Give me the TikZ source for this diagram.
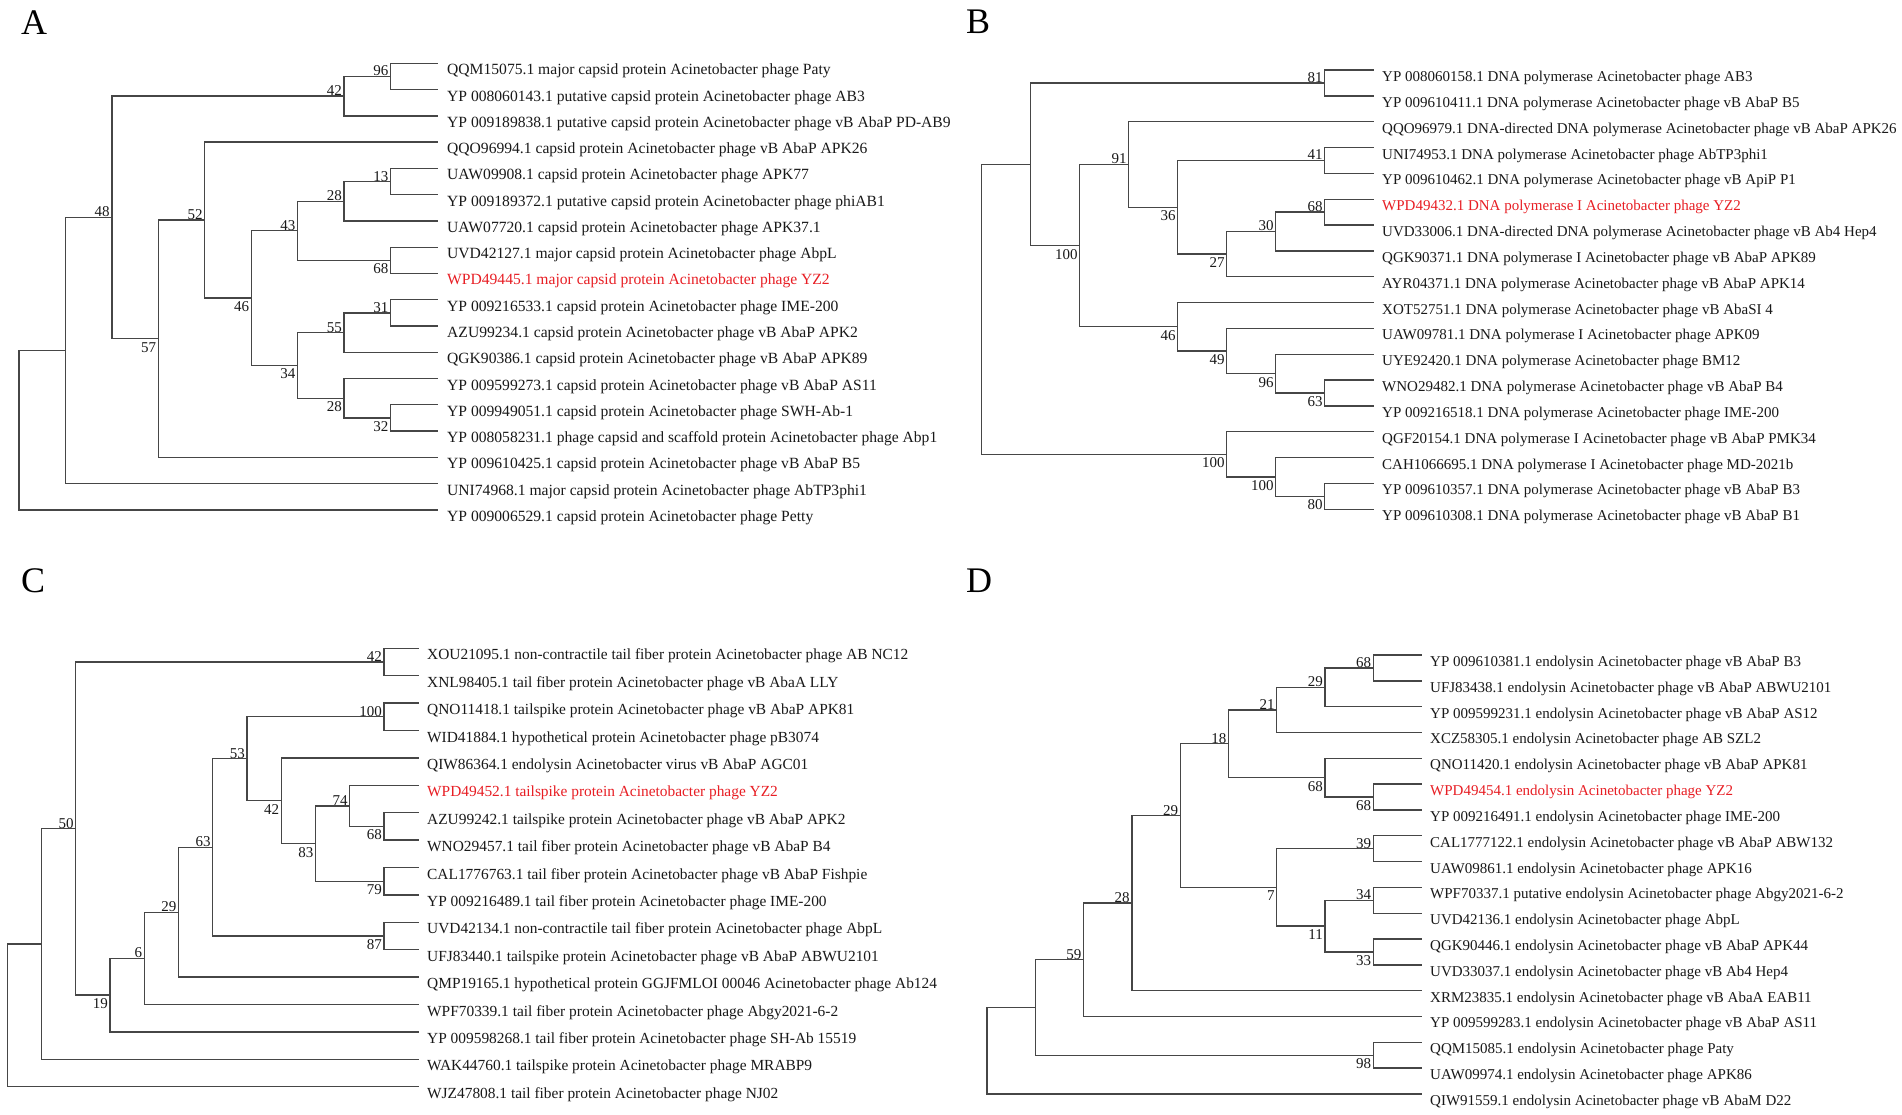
\documentclass[tikz,border=0pt]{standalone}
\usepackage{fontspec}
\setmainfont{Liberation Serif}
\usetikzlibrary{calc}
\definecolor{yzred}{RGB}{232,30,36}
\definecolor{txt}{RGB}{25,25,25}
\definecolor{brc}{RGB}{70,70,70}
\tikzset{
 br/.style={draw=brc,line width=1.35pt,line cap=rect},
 lblA/.style={text=txt,inner sep=0pt,font=\fontsize{15.6}{18}\selectfont},
 lblB/.style={text=txt,inner sep=0pt,font=\fontsize{15}{18}\selectfont},
 lblC/.style={text=txt,inner sep=0pt,font=\fontsize{15.4}{18}\selectfont},
 lblD/.style={text=txt,inner sep=0pt,font=\fontsize{15}{18}\selectfont},
 bsl/.style={text=txt,inner sep=0pt,font=\fontsize{15}{18}\selectfont},
 yz/.style={text=yzred},
 panel/.style={text=black,inner sep=0pt,font=\fontsize{36}{36}\selectfont,anchor=base west}
}
\newcommand\jn[4]{\path let \p1=(#3), \p2=(#4) in ({(#2)*1pt},{0.5*(\y1+\y2)}) coordinate (#1);
 \draw[br] (#1) |- (#3); \draw[br] (#1) |- (#4);}
\newcommand\bsa[3]{\node[bsl,anchor=base east] (#1) at ([xshift=-2pt,yshift=0.5pt]#2) {#3};}
\newcommand\bsb[3]{\node[bsl,anchor=base east] (#1) at ([xshift=-2pt,yshift=-13.5pt]#2) {#3};}
\newcommand\lf[6]{\coordinate (#1) at (#2,#4); \node[#5,anchor=base west] (#1t) at (#3,#4+11.5) {#6};}
\def\XA#1{19+46.44*#1}
\def\XB#1{981.7+49*#1}
\def\XC#1{7.3+34.25*#1}
\def\XD#1{987+48.3*#1}
\begin{document}
\begin{tikzpicture}[x=1pt,y=-1pt]
\useasboundingbox[fill=white] (0,0) rectangle (1902,1115);
% panel letters
\node[panel] (pA) at (21,35) {A};
\node[panel] (pB) at (966,34) {B};
\node[panel] (pC) at (21,592) {C};
\node[panel] (pD) at (966,592) {D};
% ---------------- Panel A ----------------
\lf{a0}{437}{447}{63.3+26.27*0}{lblA}{QQM15075.1 major capsid protein Acinetobacter phage Paty}
\lf{a1}{437}{447}{63.3+26.27*1}{lblA}{YP 008060143.1 putative capsid protein Acinetobacter phage AB3}
\lf{a2}{437}{447}{63.3+26.27*2}{lblA}{YP 009189838.1 putative capsid protein Acinetobacter phage vB AbaP PD-AB9}
\lf{a3}{437}{447}{63.3+26.27*3}{lblA}{QQO96994.1 capsid protein Acinetobacter phage vB AbaP APK26}
\lf{a4}{437}{447}{63.3+26.27*4}{lblA}{UAW09908.1 capsid protein Acinetobacter phage APK77}
\lf{a5}{437}{447}{63.3+26.27*5}{lblA}{YP 009189372.1 putative capsid protein Acinetobacter phage phiAB1}
\lf{a6}{437}{447}{63.3+26.27*6}{lblA}{UAW07720.1 capsid protein Acinetobacter phage APK37.1}
\lf{a7}{437}{447}{63.3+26.27*7}{lblA}{UVD42127.1 major capsid protein Acinetobacter phage AbpL}
\lf{a8}{437}{447}{63.3+26.27*8}{lblA,yz}{WPD49445.1 major capsid protein Acinetobacter phage YZ2}
\lf{a9}{437}{447}{63.3+26.27*9}{lblA}{YP 009216533.1 capsid protein Acinetobacter phage IME-200}
\lf{a10}{437}{447}{63.3+26.27*10}{lblA}{AZU99234.1 capsid protein Acinetobacter phage vB AbaP APK2}
\lf{a11}{437}{447}{63.3+26.27*11}{lblA}{QGK90386.1 capsid protein Acinetobacter phage vB AbaP APK89}
\lf{a12}{437}{447}{63.3+26.27*12}{lblA}{YP 009599273.1 capsid protein Acinetobacter phage vB AbaP AS11}
\lf{a13}{437}{447}{63.3+26.27*13}{lblA}{YP 009949051.1 capsid protein Acinetobacter phage SWH-Ab-1}
\lf{a14}{437}{447}{63.3+26.27*14}{lblA}{YP 008058231.1 phage capsid and scaffold protein Acinetobacter phage Abp1}
\lf{a15}{437}{447}{63.3+26.27*15}{lblA}{YP 009610425.1 capsid protein Acinetobacter phage vB AbaP B5}
\lf{a16}{437}{447}{63.3+26.27*16}{lblA}{UNI74968.1 major capsid protein Acinetobacter phage AbTP3phi1}
\lf{a17}{437}{447}{63.3+26.27*17}{lblA}{YP 009006529.1 capsid protein Acinetobacter phage Petty}
\jn{aJ96}{\XA{8}}{a0}{a1} \bsa{aB96}{aJ96}{96}
\jn{aJ42}{\XA{7}}{aJ96}{a2} \bsa{aB42}{aJ42}{42}
\jn{aJ13}{\XA{8}}{a4}{a5} \bsa{aB13}{aJ13}{13}
\jn{aJ28u}{\XA{7}}{aJ13}{a6} \bsa{aB28u}{aJ28u}{28}
\jn{aJ68}{\XA{8}}{a7}{a8} \bsb{aB68}{aJ68}{68}
\jn{aJ43}{\XA{6}}{aJ28u}{aJ68} \bsa{aB43}{aJ43}{43}
\jn{aJ31}{\XA{8}}{a9}{a10} \bsa{aB31}{aJ31}{31}
\jn{aJ55}{\XA{7}}{aJ31}{a11} \bsa{aB55}{aJ55}{55}
\jn{aJ32}{\XA{8}}{a13}{a14} \bsb{aB32}{aJ32}{32}
\jn{aJ28l}{\XA{7}}{a12}{aJ32} \bsb{aB28l}{aJ28l}{28}
\jn{aJ34}{\XA{6}}{aJ55}{aJ28l} \bsb{aB34}{aJ34}{34}
\jn{aJ46}{\XA{5}}{aJ43}{aJ34} \bsb{aB46}{aJ46}{46}
\jn{aJ52}{\XA{4}}{a3}{aJ46} \bsa{aB52}{aJ52}{52}
\jn{aJ57}{\XA{3}}{aJ52}{a15} \bsb{aB57}{aJ57}{57}
\jn{aJ48}{\XA{2}}{aJ42}{aJ57} \bsa{aB48}{aJ48}{48}
\jn{aJ1}{\XA{1}}{aJ48}{a16}
\jn{aJ0}{\XA{0}}{aJ1}{a17}
% ---------------- Panel B ----------------
\lf{b0}{1373.7}{1382}{70+25.84*0}{lblB}{YP 008060158.1 DNA polymerase Acinetobacter phage AB3}
\lf{b1}{1373.7}{1382}{70+25.84*1}{lblB}{YP 009610411.1 DNA polymerase Acinetobacter phage vB AbaP B5}
\lf{b2}{1373.7}{1382}{70+25.84*2}{lblB}{QQO96979.1 DNA-directed DNA polymerase Acinetobacter phage vB AbaP APK26}
\lf{b3}{1373.7}{1382}{70+25.84*3}{lblB}{UNI74953.1 DNA polymerase Acinetobacter phage AbTP3phi1}
\lf{b4}{1373.7}{1382}{70+25.84*4}{lblB}{YP 009610462.1 DNA polymerase Acinetobacter phage vB ApiP P1}
\lf{b5}{1373.7}{1382}{70+25.84*5}{lblB,yz}{WPD49432.1 DNA polymerase I Acinetobacter phage YZ2}
\lf{b6}{1373.7}{1382}{70+25.84*6}{lblB}{UVD33006.1 DNA-directed DNA polymerase Acinetobacter phage vB Ab4 Hep4}
\lf{b7}{1373.7}{1382}{70+25.84*7}{lblB}{QGK90371.1 DNA polymerase I Acinetobacter phage vB AbaP APK89}
\lf{b8}{1373.7}{1382}{70+25.84*8}{lblB}{AYR04371.1 DNA polymerase Acinetobacter phage vB AbaP APK14}
\lf{b9}{1373.7}{1382}{70+25.84*9}{lblB}{XOT52751.1 DNA polymerase Acinetobacter phage vB AbaSI 4}
\lf{b10}{1373.7}{1382}{70+25.84*10}{lblB}{UAW09781.1 DNA polymerase I Acinetobacter phage APK09}
\lf{b11}{1373.7}{1382}{70+25.84*11}{lblB}{UYE92420.1 DNA polymerase Acinetobacter phage BM12}
\lf{b12}{1373.7}{1382}{70+25.84*12}{lblB}{WNO29482.1 DNA polymerase Acinetobacter phage vB AbaP B4}
\lf{b13}{1373.7}{1382}{70+25.84*13}{lblB}{YP 009216518.1 DNA polymerase Acinetobacter phage IME-200}
\lf{b14}{1373.7}{1382}{70+25.84*14}{lblB}{QGF20154.1 DNA polymerase I Acinetobacter phage vB AbaP PMK34}
\lf{b15}{1373.7}{1382}{70+25.84*15}{lblB}{CAH1066695.1 DNA polymerase I Acinetobacter phage MD-2021b}
\lf{b16}{1373.7}{1382}{70+25.84*16}{lblB}{YP 009610357.1 DNA polymerase Acinetobacter phage vB AbaP B3}
\lf{b17}{1373.7}{1382}{70+25.84*17}{lblB}{YP 009610308.1 DNA polymerase Acinetobacter phage vB AbaP B1}
\jn{bJ81}{\XB{7}}{b0}{b1} \bsa{bB81}{bJ81}{81}
\jn{bJ41}{\XB{7}}{b3}{b4} \bsa{bB41}{bJ41}{41}
\jn{bJ68}{\XB{7}}{b5}{b6} \bsa{bB68}{bJ68}{68}
\jn{bJ30}{\XB{6}}{bJ68}{b7} \bsa{bB30}{bJ30}{30}
\jn{bJ27}{\XB{5}}{bJ30}{b8} \bsb{bB27}{bJ27}{27}
\jn{bJ36}{\XB{4}}{bJ41}{bJ27} \bsb{bB36}{bJ36}{36}
\jn{bJ91}{\XB{3}}{b2}{bJ36} \bsa{bB91}{bJ91}{91}
\jn{bJ63}{\XB{7}}{b12}{b13} \bsb{bB63}{bJ63}{63}
\jn{bJ96}{\XB{6}}{b11}{bJ63} \bsb{bB96}{bJ96}{96}
\jn{bJ49}{\XB{5}}{b10}{bJ96} \bsb{bB49}{bJ49}{49}
\jn{bJ46}{\XB{4}}{b9}{bJ49} \bsb{bB46}{bJ46}{46}
\jn{bJ100a}{\XB{2}}{bJ91}{bJ46} \bsb{bB100a}{bJ100a}{100}
\jn{bJ1}{\XB{1}}{bJ81}{bJ100a}
\jn{bJ80}{\XB{7}}{b16}{b17} \bsb{bB80}{bJ80}{80}
\jn{bJ100c}{\XB{6}}{b15}{bJ80} \bsb{bB100c}{bJ100c}{100}
\jn{bJ100b}{\XB{5}}{b14}{bJ100c} \bsb{bB100b}{bJ100b}{100}
\jn{bJ0}{\XB{0}}{bJ1}{bJ100b}
% ---------------- Panel C ----------------
\lf{c0}{418.3}{427}{648.3+27.4*0}{lblC}{XOU21095.1 non-contractile tail fiber protein Acinetobacter phage AB NC12}
\lf{c1}{418.3}{427}{648.3+27.4*1}{lblC}{XNL98405.1 tail fiber protein Acinetobacter phage vB AbaA LLY}
\lf{c2}{418.3}{427}{648.3+27.4*2}{lblC}{QNO11418.1 tailspike protein Acinetobacter phage vB AbaP APK81}
\lf{c3}{418.3}{427}{648.3+27.4*3}{lblC}{WID41884.1 hypothetical protein Acinetobacter phage pB3074}
\lf{c4}{418.3}{427}{648.3+27.4*4}{lblC}{QIW86364.1 endolysin Acinetobacter virus vB AbaP AGC01}
\lf{c5}{418.3}{427}{648.3+27.4*5}{lblC,yz}{WPD49452.1 tailspike protein Acinetobacter phage YZ2}
\lf{c6}{418.3}{427}{648.3+27.4*6}{lblC}{AZU99242.1 tailspike protein Acinetobacter phage vB AbaP APK2}
\lf{c7}{418.3}{427}{648.3+27.4*7}{lblC}{WNO29457.1 tail fiber protein Acinetobacter phage vB AbaP B4}
\lf{c8}{418.3}{427}{648.3+27.4*8}{lblC}{CAL1776763.1 tail fiber protein Acinetobacter phage vB AbaP Fishpie}
\lf{c9}{418.3}{427}{648.3+27.4*9}{lblC}{YP 009216489.1 tail fiber protein Acinetobacter phage IME-200}
\lf{c10}{418.3}{427}{648.3+27.4*10}{lblC}{UVD42134.1 non-contractile tail fiber protein Acinetobacter phage AbpL}
\lf{c11}{418.3}{427}{648.3+27.4*11}{lblC}{UFJ83440.1 tailspike protein Acinetobacter phage vB AbaP ABWU2101}
\lf{c12}{418.3}{427}{648.3+27.4*12}{lblC}{QMP19165.1 hypothetical protein GGJFMLOI 00046 Acinetobacter phage Ab124}
\lf{c13}{418.3}{427}{648.3+27.4*13}{lblC}{WPF70339.1 tail fiber protein Acinetobacter phage Abgy2021-6-2}
\lf{c14}{418.3}{427}{648.3+27.4*14}{lblC}{YP 009598268.1 tail fiber protein Acinetobacter phage SH-Ab 15519}
\lf{c15}{418.3}{427}{648.3+27.4*15}{lblC}{WAK44760.1 tailspike protein Acinetobacter phage MRABP9}
\lf{c16}{418.3}{427}{648.3+27.4*16}{lblC}{WJZ47808.1 tail fiber protein Acinetobacter phage NJ02}
\jn{cJ42a}{\XC{11}}{c0}{c1} \bsa{cB42a}{cJ42a}{42}
\jn{cJ100}{\XC{11}}{c2}{c3} \bsa{cB100}{cJ100}{100}
\jn{cJ68}{\XC{11}}{c6}{c7} \bsb{cB68}{cJ68}{68}
\jn{cJ74}{\XC{10}}{c5}{cJ68} \bsa{cB74}{cJ74}{74}
\jn{cJ79}{\XC{11}}{c8}{c9} \bsb{cB79}{cJ79}{79}
\jn{cJ83}{\XC{9}}{cJ74}{cJ79} \bsb{cB83}{cJ83}{83}
\jn{cJ42b}{\XC{8}}{c4}{cJ83} \bsb{cB42b}{cJ42b}{42}
\jn{cJ53}{\XC{7}}{cJ100}{cJ42b} \bsa{cB53}{cJ53}{53}
\jn{cJ87}{\XC{11}}{c10}{c11} \bsb{cB87}{cJ87}{87}
\jn{cJ63}{\XC{6}}{cJ53}{cJ87} \bsa{cB63}{cJ63}{63}
\jn{cJ29}{\XC{5}}{cJ63}{c12} \bsa{cB29}{cJ29}{29}
\jn{cJ6}{\XC{4}}{cJ29}{c13} \bsa{cB6}{cJ6}{6}
\jn{cJ19}{\XC{3}}{cJ6}{c14} \bsb{cB19}{cJ19}{19}
\jn{cJ50}{\XC{2}}{cJ42a}{cJ19} \bsa{cB50}{cJ50}{50}
\jn{cJ1}{\XC{1}}{cJ50}{c15}
\jn{cJ0}{\XC{0}}{cJ1}{c16}
% ---------------- Panel D ----------------
\lf{d0}{1421.7}{1430}{655+25.82*0}{lblD}{YP 009610381.1 endolysin Acinetobacter phage vB AbaP B3}
\lf{d1}{1421.7}{1430}{655+25.82*1}{lblD}{UFJ83438.1 endolysin Acinetobacter phage vB AbaP ABWU2101}
\lf{d2}{1421.7}{1430}{655+25.82*2}{lblD}{YP 009599231.1 endolysin Acinetobacter phage vB AbaP AS12}
\lf{d3}{1421.7}{1430}{655+25.82*3}{lblD}{XCZ58305.1 endolysin Acinetobacter phage AB SZL2}
\lf{d4}{1421.7}{1430}{655+25.82*4}{lblD}{QNO11420.1 endolysin Acinetobacter phage vB AbaP APK81}
\lf{d5}{1421.7}{1430}{655+25.82*5}{lblD,yz}{WPD49454.1 endolysin Acinetobacter phage YZ2}
\lf{d6}{1421.7}{1430}{655+25.82*6}{lblD}{YP 009216491.1 endolysin Acinetobacter phage IME-200}
\lf{d7}{1421.7}{1430}{655+25.82*7}{lblD}{CAL1777122.1 endolysin Acinetobacter phage vB AbaP ABW132}
\lf{d8}{1421.7}{1430}{655+25.82*8}{lblD}{UAW09861.1 endolysin Acinetobacter phage APK16}
\lf{d9}{1421.7}{1430}{655+25.82*9}{lblD}{WPF70337.1 putative endolysin Acinetobacter phage Abgy2021-6-2}
\lf{d10}{1421.7}{1430}{655+25.82*10}{lblD}{UVD42136.1 endolysin Acinetobacter phage AbpL}
\lf{d11}{1421.7}{1430}{655+25.82*11}{lblD}{QGK90446.1 endolysin Acinetobacter phage vB AbaP APK44}
\lf{d12}{1421.7}{1430}{655+25.82*12}{lblD}{UVD33037.1 endolysin Acinetobacter phage vB Ab4 Hep4}
\lf{d13}{1421.7}{1430}{655+25.82*13}{lblD}{XRM23835.1 endolysin Acinetobacter phage vB AbaA EAB11}
\lf{d14}{1421.7}{1430}{655+25.82*14}{lblD}{YP 009599283.1 endolysin Acinetobacter phage vB AbaP AS11}
\lf{d15}{1421.7}{1430}{655+25.82*15}{lblD}{QQM15085.1 endolysin Acinetobacter phage Paty}
\lf{d16}{1421.7}{1430}{655+25.82*16}{lblD}{UAW09974.1 endolysin Acinetobacter phage APK86}
\lf{d17}{1421.7}{1430}{655+25.82*17}{lblD}{QIW91559.1 endolysin Acinetobacter phage vB AbaM D22}
\jn{dJ68a}{\XD{8}}{d0}{d1} \bsa{dB68a}{dJ68a}{68}
\jn{dJ29a}{\XD{7}}{dJ68a}{d2} \bsa{dB29a}{dJ29a}{29}
\jn{dJ21}{\XD{6}}{dJ29a}{d3} \bsa{dB21}{dJ21}{21}
\jn{dJ68c}{\XD{8}}{d5}{d6} \bsb{dB68c}{dJ68c}{68}
\jn{dJ68b}{\XD{7}}{d4}{dJ68c} \bsb{dB68b}{dJ68b}{68}
\jn{dJ18}{\XD{5}}{dJ21}{dJ68b} \bsa{dB18}{dJ18}{18}
\jn{dJ39}{\XD{8}}{d7}{d8} \bsa{dB39}{dJ39}{39}
\jn{dJ34}{\XD{8}}{d9}{d10} \bsa{dB34}{dJ34}{34}
\jn{dJ33}{\XD{8}}{d11}{d12} \bsb{dB33}{dJ33}{33}
\jn{dJ11}{\XD{7}}{dJ34}{dJ33} \bsb{dB11}{dJ11}{11}
\jn{dJ7}{\XD{6}}{dJ39}{dJ11} \bsb{dB7}{dJ7}{7}
\jn{dJ29b}{\XD{4}}{dJ18}{dJ7} \bsa{dB29b}{dJ29b}{29}
\jn{dJ28}{\XD{3}}{dJ29b}{d13} \bsa{dB28}{dJ28}{28}
\jn{dJ59}{\XD{2}}{dJ28}{d14} \bsa{dB59}{dJ59}{59}
\jn{dJ98}{\XD{8}}{d15}{d16} \bsb{dB98}{dJ98}{98}
\jn{dJ1}{\XD{1}}{dJ59}{dJ98}
\jn{dJ0}{\XD{0}}{dJ1}{d17}
\end{tikzpicture}
\end{document}
